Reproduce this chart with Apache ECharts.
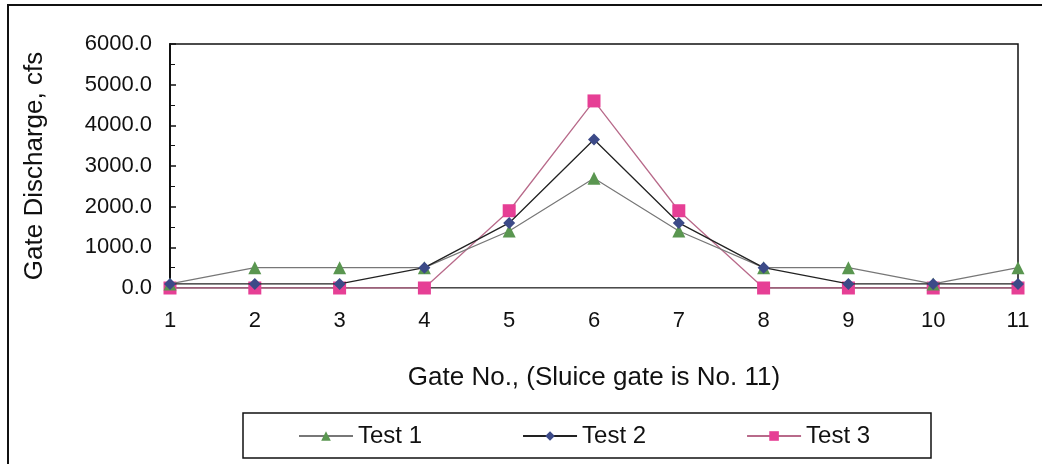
<!DOCTYPE html>
<html><head><meta charset="utf-8">
<script src="https://cdn.jsdelivr.net/npm/echarts@6/dist/echarts.min.js"></script>
<style>html,body{margin:0;padding:0;background:#fff}#c{width:1042px;height:464px}</style>
</head><body><div id="c"></div>
<script>
const categories = ['1','2','3','4','5','6','7','8','9','10','11'];
const test1 = [100, 500, 500, 500, 1400, 2700, 1400, 500, 500, 100, 500];
const test2 = [100, 100, 100, 500, 1600, 3650, 1600, 500, 100, 100, 100];
const test3 = [0, 0, 0, 0, 1900, 4600, 1900, 0, 0, 0, 0];
const seriesNames = ['Test 1', 'Test 2', 'Test 3'];
const yTicks = [0, 1000, 2000, 3000, 4000, 5000, 6000];

const font = 'Liberation Sans, Arial, sans-serif';
const chart = echarts.init(document.getElementById('c'));
chart.setOption({
  animation: false,
  graphic: [
    {type:'rect', shape:{x:8,y:5,width:1100,height:500}, style:{fill:'none', stroke:'#111', lineWidth:2}, z:-10},
    {type:'rect', shape:{x:243,y:413,width:688,height:45}, style:{fill:'none', stroke:'#111', lineWidth:1.5}, z:-5}
  ],
  grid: {left:170, right:24, top:44, bottom:176, show:true, borderColor:'#111', borderWidth:1.5},
  legend: {
    data: seriesNames, left:298, top:424, orient:'horizontal', itemGap:100, padding:0,
    itemWidth:54, itemHeight:12,
    textStyle:{fontFamily:font, fontSize:24, color:'#111'}
  },
  xAxis: {
    type:'category', data:categories, boundaryGap:false,
    name:'Gate No., (Sluice gate is No. 11)', nameLocation:'middle', nameGap:77,
    nameTextStyle:{fontFamily:font, fontSize:26, color:'#111'},
    axisLine:{show:true, lineStyle:{color:'#999', width:1}},
    axisTick:{show:false},
    axisLabel:{fontFamily:font, fontSize:22, color:'#111', margin:22}
  },
  yAxis: {
    type:'value', min:yTicks[0], max:yTicks[yTicks.length-1], interval:1000,
    name:'Gate Discharge, cfs', nameLocation:'middle', nameGap:122,
    nameTextStyle:{fontFamily:font, fontSize:26, color:'#111'},
    axisLine:{show:true, lineStyle:{color:'#111', width:2}},
    axisTick:{show:true, inside:true, length:6, lineStyle:{color:'#111', width:1.5}},
    minorTick:{show:true, splitNumber:2, length:5, lineStyle:{color:'#111'}},
    splitLine:{show:false},
    axisLabel:{fontFamily:font, fontSize:22, color:'#111', margin:18, formatter:v=>v.toFixed(1)}
  },
  series: [
    {name:seriesNames[0], type:'line', data:test1, symbol:'triangle', symbolSize:13,
     lineStyle:{color:'#777', width:1.2}, itemStyle:{color:'#5a9650'}, z:3},
    {name:seriesNames[1], type:'line', data:test2, symbol:'diamond', symbolSize:12,
     lineStyle:{color:'#222', width:1.3}, itemStyle:{color:'#3c4a88'}, z:4},
    {name:seriesNames[2], type:'line', data:test3, symbol:'rect', symbolSize:13,
     lineStyle:{color:'#b86a8a', width:1.3}, itemStyle:{color:'#e63f95'}, z:2}
  ]
});
</script></body></html>
